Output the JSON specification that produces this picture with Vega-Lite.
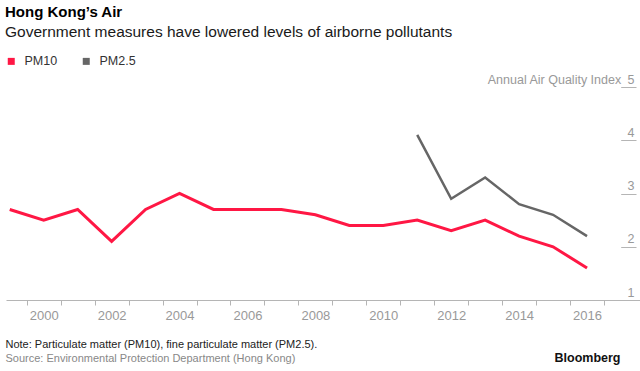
{
  "$schema": "https://vega.github.io/schema/vega-lite/v6.json",
  "autosize": {"type": "none"},
  "width": 634,
  "height": 213,
  "padding": {"left": 6, "top": 87, "right": 0, "bottom": 71},
  "background": "#ffffff",
  "config": {"font": "Liberation Sans", "view": {"stroke": null}},
  "title": {
    "text": "Hong Kong’s Air",
    "subtitle": "Government measures have lowered levels of airborne pollutants",
    "anchor": "start",
    "frame": "group",
    "fontSize": 15,
    "fontWeight": "bold",
    "color": "#000000",
    "subtitleFontSize": 15.5,
    "subtitleColor": "#1a1a1a",
    "subtitlePadding": 5,
    "offset": 0,
    "dx": -1,
    "dy": -15
  },
  "data": {
    "values": [
      {"year": 1999, "series": "PM10", "value": 2.7},
      {"year": 2000, "series": "PM10", "value": 2.5},
      {"year": 2001, "series": "PM10", "value": 2.7},
      {"year": 2002, "series": "PM10", "value": 2.1},
      {"year": 2003, "series": "PM10", "value": 2.7},
      {"year": 2004, "series": "PM10", "value": 3.0},
      {"year": 2005, "series": "PM10", "value": 2.7},
      {"year": 2006, "series": "PM10", "value": 2.7},
      {"year": 2007, "series": "PM10", "value": 2.7},
      {"year": 2008, "series": "PM10", "value": 2.6},
      {"year": 2009, "series": "PM10", "value": 2.4},
      {"year": 2010, "series": "PM10", "value": 2.4},
      {"year": 2011, "series": "PM10", "value": 2.5},
      {"year": 2012, "series": "PM10", "value": 2.3},
      {"year": 2013, "series": "PM10", "value": 2.5},
      {"year": 2014, "series": "PM10", "value": 2.2},
      {"year": 2015, "series": "PM10", "value": 2.0},
      {"year": 2016, "series": "PM10", "value": 1.6},
      {"year": 2011, "series": "PM2.5", "value": 4.1},
      {"year": 2012, "series": "PM2.5", "value": 2.9},
      {"year": 2013, "series": "PM2.5", "value": 3.3},
      {"year": 2014, "series": "PM2.5", "value": 2.8},
      {"year": 2015, "series": "PM2.5", "value": 2.6},
      {"year": 2016, "series": "PM2.5", "value": 2.2}
    ]
  },
  "resolve": {
    "scale": {"x": "independent", "y": "independent"},
    "axis": {"x": "independent", "y": "independent"}
  },
  "layer": [
    {
      "transform": [{"filter": "datum.series === 'PM10'"}],
      "mark": {"type": "line", "strokeWidth": 3},
      "encoding": {
        "x": {
          "field": "year", "type": "quantitative",
          "scale": {"domain": [1998.89, 2017.56], "nice": false, "zero": false},
          "axis": {
            "values": [1999.5, 2000.5, 2001.5, 2002.5, 2003.5, 2004.5, 2005.5, 2006.5, 2007.5, 2008.5, 2009.5, 2010.5, 2011.5, 2012.5, 2013.5, 2014.5, 2015.5, 2016.5],
            "labelExpr": "(datum.value + 0.5) % 2 == 0 ? toString(datum.value + 0.5) : ''",
            "labelOffset": 17,
            "labelFlush": false,
            "labelOverlap": false,
            "labelBaseline": "alphabetic",
            "labelPadding": 14.3,
            "labelFontSize": 13,
            "labelColor": "#999999",
            "tickSize": 5,
            "tickColor": "#b5b5b5",
            "domainColor": "#b5b5b5",
            "grid": false,
            "title": "Note: Particulate matter (PM10), fine particulate matter (PM2.5).",
            "titleX": -1,
            "titleY": 47,
            "titleAlign": "left",
            "titleBaseline": "alphabetic",
            "titleFontSize": 11,
            "titleFontWeight": "normal",
            "titleColor": "#222222"
          }
        },
        "y": {
          "field": "value", "type": "quantitative",
          "scale": {"domain": [1, 5], "nice": false, "zero": false},
          "axis": {
            "orient": "right",
            "offset": -19.3,
            "values": [1, 2, 3, 4, 5],
            "domain": false,
            "grid": false,
            "tickSize": 15.3,
            "tickColor": "#b5b5b5",
            "labelAlign": "right",
            "labelBaseline": "alphabetic",
            "labelPadding": -2,
            "labelOffset": -4,
            "labelFontSize": 12.5,
            "labelColor": "#999999",
            "title": "Annual Air Quality Index",
            "titleAngle": 0,
            "titleAlign": "right",
            "titleBaseline": "alphabetic",
            "titleX": 0,
            "titleY": -4,
            "titleFontSize": 12.5,
            "titleFontWeight": "normal",
            "titleColor": "#999999"
          }
        },
        "color": {
          "field": "series", "type": "nominal",
          "scale": {"domain": ["PM10", "PM2.5"], "range": ["#ff1744", "#666666"]},
          "legend": {
            "orient": "none",
            "legendX": -1,
            "legendY": -32,
            "direction": "horizontal",
            "title": null,
            "symbolType": "square",
            "symbolSize": 49,
            "symbolStrokeWidth": 0,
            "labelFontSize": 12.5,
            "labelColor": "#333333",
            "labelOffset": 7,
            "columnPadding": 22,
            "encode": {"symbols": {"update": {"fill": {"scale": "color", "field": "value"}}}}
          }
        }
      }
    },
    {
      "transform": [{"filter": "datum.series === 'PM2.5'"}],
      "mark": {"type": "line", "strokeWidth": 2.5},
      "encoding": {
        "x": {
          "field": "year", "type": "quantitative",
          "scale": {"domain": [1998.89, 2017.56], "nice": false, "zero": false},
          "axis": {
            "orient": "bottom",
            "domain": false,
            "ticks": false,
            "labels": false,
            "grid": false,
            "title": "Source: Environmental Protection Department (Hong Kong)",
            "titleX": -1,
            "titleY": 61.3,
            "titleAlign": "left",
            "titleBaseline": "alphabetic",
            "titleFontSize": 11,
            "titleFontWeight": "normal",
            "titleColor": "#888888"
          }
        },
        "y": {
          "field": "value", "type": "quantitative",
          "scale": {"domain": [1, 5], "nice": false, "zero": false},
          "axis": {
            "orient": "left",
            "domain": false,
            "ticks": false,
            "labels": false,
            "grid": false,
            "title": "Bloomberg",
            "titleAngle": 0,
            "titleAlign": "right",
            "titleBaseline": "alphabetic",
            "titleX": 614,
            "titleY": 274.7,
            "titleFontSize": 12.5,
            "titleFontWeight": "bold",
            "titleColor": "#111111"
          }
        },
        "color": {
          "field": "series", "type": "nominal",
          "scale": {"domain": ["PM10", "PM2.5"], "range": ["#ff1744", "#666666"]}
        }
      }
    }
  ]
}
